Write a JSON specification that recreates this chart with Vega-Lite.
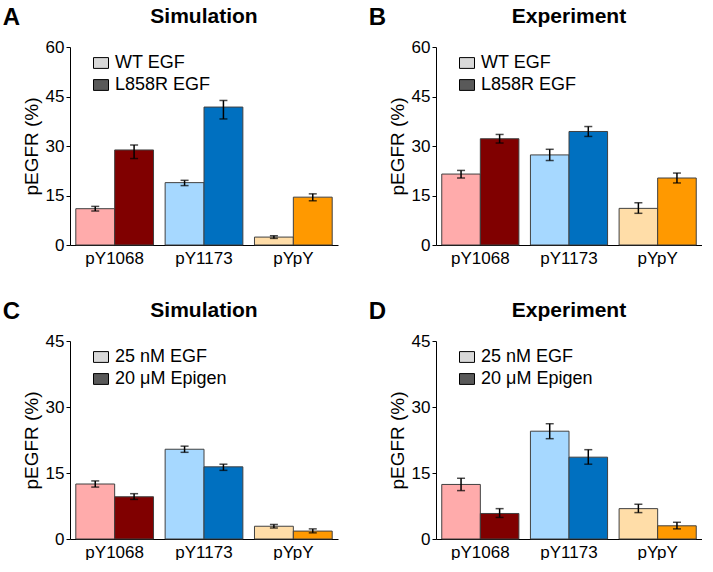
{
  "$schema": "https://vega.github.io/schema/vega-lite/v6.json",
  "background": "white",
  "padding": {"left": 2, "top": 6, "right": 0, "bottom": 0},
  "config": {
    "font": "Liberation Sans",
    "view": {"stroke": null},
    "title": {"fontSize": 21, "fontWeight": "bold", "color": "black", "offset": 11},
    "axis": {"labelColor": "black", "titleColor": "black", "domainColor": "black", "tickColor": "black", "labelFontSize": 17, "titleFontSize": 19, "titleFontWeight": "normal", "grid": false},
    "legend": {"orient": "none", "legendX": 22, "legendY": 7, "symbolType": "M-1,-0.72H1V0.72H-1Z", "symbolSize": 225, "symbolOpacity": 1, "symbolStrokeColor": "black", "symbolStrokeWidth": 1, "labelFontSize": 18, "labelColor": "black", "rowPadding": 4, "labelOffset": 5, "padding": 0}
  },
  "datasets": {
    "A": [
      {"cat": "pY1068", "cond": "WT EGF", "val": 11.0, "lo": 10.3, "hi": 11.7, "color": "#FFABAB"},
      {"cat": "pY1068", "cond": "L858R EGF", "val": 28.8, "lo": 26.2, "hi": 30.3, "color": "#800000"},
      {"cat": "pY1173", "cond": "WT EGF", "val": 18.9, "lo": 18.0, "hi": 19.6, "color": "#A6D8FF"},
      {"cat": "pY1173", "cond": "L858R EGF", "val": 41.8, "lo": 38.2, "hi": 43.8, "color": "#0070C0"},
      {"cat": "pYpY", "cond": "WT EGF", "val": 2.4, "lo": 2.0, "hi": 2.8, "color": "#FFDDA8"},
      {"cat": "pYpY", "cond": "L858R EGF", "val": 14.5, "lo": 13.4, "hi": 15.5, "color": "#FF9900"}
    ],
    "B": [
      {"cat": "pY1068", "cond": "WT EGF", "val": 21.5, "lo": 20.3, "hi": 22.6, "color": "#FFABAB"},
      {"cat": "pY1068", "cond": "L858R EGF", "val": 32.2, "lo": 30.9, "hi": 33.5, "color": "#800000"},
      {"cat": "pY1173", "cond": "WT EGF", "val": 27.3, "lo": 25.6, "hi": 29.0, "color": "#A6D8FF"},
      {"cat": "pY1173", "cond": "L858R EGF", "val": 34.4, "lo": 32.9, "hi": 35.9, "color": "#0070C0"},
      {"cat": "pYpY", "cond": "WT EGF", "val": 11.1, "lo": 9.6, "hi": 12.8, "color": "#FFDDA8"},
      {"cat": "pYpY", "cond": "L858R EGF", "val": 20.3, "lo": 18.8, "hi": 21.8, "color": "#FF9900"}
    ],
    "C": [
      {"cat": "pY1068", "cond": "25 nM EGF", "val": 12.5, "lo": 11.8, "hi": 13.2, "color": "#FFABAB"},
      {"cat": "pY1068", "cond": "20 μM Epigen", "val": 9.6, "lo": 9.0, "hi": 10.3, "color": "#800000"},
      {"cat": "pY1173", "cond": "25 nM EGF", "val": 20.4, "lo": 19.7, "hi": 21.1, "color": "#A6D8FF"},
      {"cat": "pY1173", "cond": "20 μM Epigen", "val": 16.4, "lo": 15.6, "hi": 17.0, "color": "#0070C0"},
      {"cat": "pYpY", "cond": "25 nM EGF", "val": 2.9, "lo": 2.5, "hi": 3.3, "color": "#FFDDA8"},
      {"cat": "pYpY", "cond": "20 μM Epigen", "val": 1.8, "lo": 1.4, "hi": 2.3, "color": "#FF9900"}
    ],
    "D": [
      {"cat": "pY1068", "cond": "25 nM EGF", "val": 12.4, "lo": 11.0, "hi": 13.8, "color": "#FFABAB"},
      {"cat": "pY1068", "cond": "20 μM Epigen", "val": 5.8, "lo": 4.9, "hi": 6.9, "color": "#800000"},
      {"cat": "pY1173", "cond": "25 nM EGF", "val": 24.5, "lo": 22.8, "hi": 26.2, "color": "#A6D8FF"},
      {"cat": "pY1173", "cond": "20 μM Epigen", "val": 18.6, "lo": 17.0, "hi": 20.3, "color": "#0070C0"},
      {"cat": "pYpY", "cond": "25 nM EGF", "val": 6.9, "lo": 6.0, "hi": 7.9, "color": "#FFDDA8"},
      {"cat": "pYpY", "cond": "20 μM Epigen", "val": 3.0, "lo": 2.3, "hi": 3.8, "color": "#FF9900"}
    ]
  },
  "resolve": {"scale": {"x": "independent", "y": "independent", "xOffset": "independent", "color": "independent"}, "legend": {"color": "independent"}},
  "spacing": 34,
  "vconcat": [
    {
      "spacing": 30,
      "resolve": {"scale": {"x": "independent", "y": "independent", "xOffset": "independent", "color": "independent"}, "legend": {"color": "independent"}},
      "hconcat": [
        {
          "title": {"text": "A", "orient": "left", "angle": 0, "anchor": "end", "fontSize": 24, "offset": 2, "align": "left", "baseline": "top"},
          "resolve": {"scale": {"x": "independent", "y": "independent", "xOffset": "independent", "color": "independent"}, "legend": {"color": "independent"}},
          "vconcat": [
            {
              "title": {"text": "Simulation"},
              "width": 268, "height": 198,
              "data": {"name": "A"},
              "encoding": {
                "x": {"field": "cat", "type": "nominal", "sort": ["pY1068", "pY1173", "pYpY"], "scale": {"paddingInner": 0.13, "paddingOuter": 0.065}, "axis": {"title": null, "labelAngle": 0, "ticks": false, "labelPadding": 5}},
                "xOffset": {"field": "cond", "type": "nominal", "sort": ["WT EGF", "L858R EGF"], "scale": {"paddingInner": 0, "paddingOuter": 0}}
              },
              "layer": [
                {"mark": {"type": "bar", "stroke": "#404040", "strokeWidth": 1}, "encoding": {"y": {"field": "val", "type": "quantitative", "title": "pEGFR (%)", "scale": {"domain": [0, 60]}, "axis": {"values": [0, 7.5, 15, 22.5, 30, 37.5, 45, 52.5, 60], "labelExpr": "datum.value % 15 == 0 ? datum.label : ''", "labelOverlap": false, "tickSize": 4, "titlePadding": 4}}, "fill": {"field": "color", "type": "nominal", "scale": null}}},
                {"mark": {"type": "rule", "color": "black", "strokeWidth": 1.5}, "encoding": {"y": {"field": "lo", "type": "quantitative", "title": "pEGFR (%)"}, "y2": {"field": "hi"}}},
                {"mark": {"type": "tick", "color": "black", "thickness": 1.5, "size": 8}, "encoding": {"y": {"field": "lo", "type": "quantitative", "title": "pEGFR (%)"}}},
                {"mark": {"type": "tick", "color": "black", "thickness": 1.5, "size": 8}, "encoding": {"y": {"field": "hi", "type": "quantitative", "title": "pEGFR (%)"}}},
                {"mark": {"type": "square", "filled": true, "opacity": 0}, "encoding": {"y": {"field": "val", "type": "quantitative", "title": "pEGFR (%)"}, "color": {"field": "cond", "type": "nominal", "scale": {"domain": ["WT EGF", "L858R EGF"], "range": ["#D9D9D9", "#595959"]}, "legend": {"title": null}}}}
              ]
            }
          ]
        },
        {
          "title": {"text": "B", "orient": "left", "angle": 0, "anchor": "end", "fontSize": 24, "offset": 2, "align": "left", "baseline": "top"},
          "resolve": {"scale": {"x": "independent", "y": "independent", "xOffset": "independent", "color": "independent"}, "legend": {"color": "independent"}},
          "vconcat": [
            {
              "title": {"text": "Experiment"},
              "width": 266, "height": 198,
              "data": {"name": "B"},
              "encoding": {
                "x": {"field": "cat", "type": "nominal", "sort": ["pY1068", "pY1173", "pYpY"], "scale": {"paddingInner": 0.13, "paddingOuter": 0.065}, "axis": {"title": null, "labelAngle": 0, "ticks": false, "labelPadding": 5}},
                "xOffset": {"field": "cond", "type": "nominal", "sort": ["WT EGF", "L858R EGF"], "scale": {"paddingInner": 0, "paddingOuter": 0}}
              },
              "layer": [
                {"mark": {"type": "bar", "stroke": "#404040", "strokeWidth": 1}, "encoding": {"y": {"field": "val", "type": "quantitative", "title": "pEGFR (%)", "scale": {"domain": [0, 60]}, "axis": {"values": [0, 7.5, 15, 22.5, 30, 37.5, 45, 52.5, 60], "labelExpr": "datum.value % 15 == 0 ? datum.label : ''", "labelOverlap": false, "tickSize": 4, "titlePadding": 4}}, "fill": {"field": "color", "type": "nominal", "scale": null}}},
                {"mark": {"type": "rule", "color": "black", "strokeWidth": 1.5}, "encoding": {"y": {"field": "lo", "type": "quantitative", "title": "pEGFR (%)"}, "y2": {"field": "hi"}}},
                {"mark": {"type": "tick", "color": "black", "thickness": 1.5, "size": 8}, "encoding": {"y": {"field": "lo", "type": "quantitative", "title": "pEGFR (%)"}}},
                {"mark": {"type": "tick", "color": "black", "thickness": 1.5, "size": 8}, "encoding": {"y": {"field": "hi", "type": "quantitative", "title": "pEGFR (%)"}}},
                {"mark": {"type": "square", "filled": true, "opacity": 0}, "encoding": {"y": {"field": "val", "type": "quantitative", "title": "pEGFR (%)"}, "color": {"field": "cond", "type": "nominal", "scale": {"domain": ["WT EGF", "L858R EGF"], "range": ["#D9D9D9", "#595959"]}, "legend": {"title": null}}}}
              ]
            }
          ]
        }
      ]
    },
    {
      "spacing": 30,
      "resolve": {"scale": {"x": "independent", "y": "independent", "xOffset": "independent", "color": "independent"}, "legend": {"color": "independent"}},
      "hconcat": [
        {
          "title": {"text": "C", "orient": "left", "angle": 0, "anchor": "end", "fontSize": 24, "offset": 2, "align": "left", "baseline": "top"},
          "resolve": {"scale": {"x": "independent", "y": "independent", "xOffset": "independent", "color": "independent"}, "legend": {"color": "independent"}},
          "vconcat": [
            {
              "title": {"text": "Simulation"},
              "width": 268, "height": 198,
              "data": {"name": "C"},
              "encoding": {
                "x": {"field": "cat", "type": "nominal", "sort": ["pY1068", "pY1173", "pYpY"], "scale": {"paddingInner": 0.13, "paddingOuter": 0.065}, "axis": {"title": null, "labelAngle": 0, "ticks": false, "labelPadding": 5}},
                "xOffset": {"field": "cond", "type": "nominal", "sort": ["25 nM EGF", "20 μM Epigen"], "scale": {"paddingInner": 0, "paddingOuter": 0}}
              },
              "layer": [
                {"mark": {"type": "bar", "stroke": "#404040", "strokeWidth": 1}, "encoding": {"y": {"field": "val", "type": "quantitative", "title": "pEGFR (%)", "scale": {"domain": [0, 45]}, "axis": {"values": [0, 7.5, 15, 22.5, 30, 37.5, 45], "labelExpr": "datum.value % 15 == 0 ? datum.label : ''", "labelOverlap": false, "tickSize": 4, "titlePadding": 4}}, "fill": {"field": "color", "type": "nominal", "scale": null}}},
                {"mark": {"type": "rule", "color": "black", "strokeWidth": 1.5}, "encoding": {"y": {"field": "lo", "type": "quantitative", "title": "pEGFR (%)"}, "y2": {"field": "hi"}}},
                {"mark": {"type": "tick", "color": "black", "thickness": 1.5, "size": 8}, "encoding": {"y": {"field": "lo", "type": "quantitative", "title": "pEGFR (%)"}}},
                {"mark": {"type": "tick", "color": "black", "thickness": 1.5, "size": 8}, "encoding": {"y": {"field": "hi", "type": "quantitative", "title": "pEGFR (%)"}}},
                {"mark": {"type": "square", "filled": true, "opacity": 0}, "encoding": {"y": {"field": "val", "type": "quantitative", "title": "pEGFR (%)"}, "color": {"field": "cond", "type": "nominal", "scale": {"domain": ["25 nM EGF", "20 μM Epigen"], "range": ["#D9D9D9", "#595959"]}, "legend": {"title": null}}}}
              ]
            }
          ]
        },
        {
          "title": {"text": "D", "orient": "left", "angle": 0, "anchor": "end", "fontSize": 24, "offset": 2, "align": "left", "baseline": "top"},
          "resolve": {"scale": {"x": "independent", "y": "independent", "xOffset": "independent", "color": "independent"}, "legend": {"color": "independent"}},
          "vconcat": [
            {
              "title": {"text": "Experiment"},
              "width": 266, "height": 198,
              "data": {"name": "D"},
              "encoding": {
                "x": {"field": "cat", "type": "nominal", "sort": ["pY1068", "pY1173", "pYpY"], "scale": {"paddingInner": 0.13, "paddingOuter": 0.065}, "axis": {"title": null, "labelAngle": 0, "ticks": false, "labelPadding": 5}},
                "xOffset": {"field": "cond", "type": "nominal", "sort": ["25 nM EGF", "20 μM Epigen"], "scale": {"paddingInner": 0, "paddingOuter": 0}}
              },
              "layer": [
                {"mark": {"type": "bar", "stroke": "#404040", "strokeWidth": 1}, "encoding": {"y": {"field": "val", "type": "quantitative", "title": "pEGFR (%)", "scale": {"domain": [0, 45]}, "axis": {"values": [0, 7.5, 15, 22.5, 30, 37.5, 45], "labelExpr": "datum.value % 15 == 0 ? datum.label : ''", "labelOverlap": false, "tickSize": 4, "titlePadding": 4}}, "fill": {"field": "color", "type": "nominal", "scale": null}}},
                {"mark": {"type": "rule", "color": "black", "strokeWidth": 1.5}, "encoding": {"y": {"field": "lo", "type": "quantitative", "title": "pEGFR (%)"}, "y2": {"field": "hi"}}},
                {"mark": {"type": "tick", "color": "black", "thickness": 1.5, "size": 8}, "encoding": {"y": {"field": "lo", "type": "quantitative", "title": "pEGFR (%)"}}},
                {"mark": {"type": "tick", "color": "black", "thickness": 1.5, "size": 8}, "encoding": {"y": {"field": "hi", "type": "quantitative", "title": "pEGFR (%)"}}},
                {"mark": {"type": "square", "filled": true, "opacity": 0}, "encoding": {"y": {"field": "val", "type": "quantitative", "title": "pEGFR (%)"}, "color": {"field": "cond", "type": "nominal", "scale": {"domain": ["25 nM EGF", "20 μM Epigen"], "range": ["#D9D9D9", "#595959"]}, "legend": {"title": null}}}}
              ]
            }
          ]
        }
      ]
    }
  ]
}
